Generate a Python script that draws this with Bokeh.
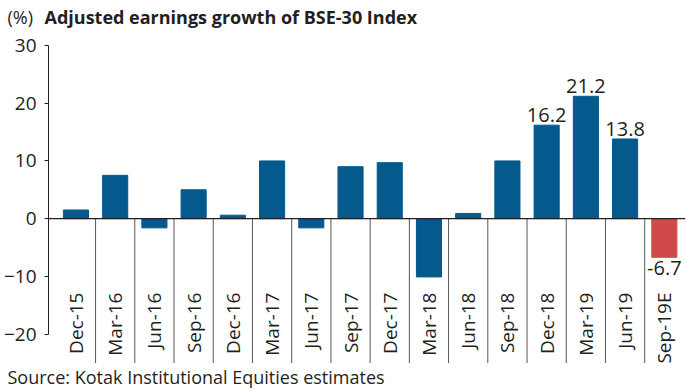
from bokeh.plotting import figure
from bokeh.layouts import column
from bokeh.models import ColumnDataSource, FixedTicker, Span
from bokeh.core.properties import value
from bokeh.embed import file_html
from bokeh.resources import INLINE

categories = ["Dec-15", "Mar-16", "Jun-16", "Sep-16", "Dec-16", "Mar-17", "Jun-17", "Sep-17",
              "Dec-17", "Mar-18", "Jun-18", "Sep-18", "Dec-18", "Mar-19", "Jun-19", "Sep-19E"]
growth = [1.5, 7.5, -1.6, 5.0, 0.6, 10.0, -1.6, 9.0, 9.7, -10.1, 0.9, 10.0, 16.2, 21.2, 13.8, -6.7]
labelled = ["Dec-18", "Mar-19", "Jun-19", "Sep-19E"]
y_ticks = [-20, -10, 0, 10, 20, 30]
title_unit = "(%)"
title_text = "Adjusted earnings growth of BSE-30 Index"
source_text = "Source: Kotak Institutional Equities estimates"

BLUE = "#045a8d"
RED = "#d04a4a"
FONT = "Open Sans"
TXT = "#231f20"
W = 691
TOP_H, MAIN_H, BOT_H = 30, 333, 26

Y_MIN, Y_MAX = -25.1, 30
xs = list(range(len(categories)))
colors = [RED if c.endswith("E") else BLUE for c in categories]


def no_align(f):
    try:
        f.frame_align = False
    except Exception:
        pass
    return f


def text_strip(h):
    f = figure(width=W, height=h, output_backend="svg", toolbar_location=None,
               x_range=(0, W), y_range=(0, h), x_axis_location=None, y_axis_location=None,
               min_border=0)
    f.outline_line_color = None
    f.grid.visible = False
    return no_align(f)


# title strip
top = text_strip(TOP_H)
top.text(x=[7], y=[TOP_H - 16], text=[title_unit], text_baseline="middle",
         text_font=value(FONT), text_font_size="18px", text_color=TXT)
top.text(x=[44], y=[TOP_H - 16], text=[title_text], text_baseline="middle",
         text_font=value(FONT), text_font_size="18px", text_font_style="bold", text_color=TXT)

# main chart
src = ColumnDataSource(dict(x=xs, top=growth, color=colors, cat=categories))
p = figure(width=W, height=MAIN_H, output_backend="svg", toolbar_location=None,
           x_range=(-0.7, 15.54), y_range=(Y_MIN, Y_MAX), x_axis_location=None,
           min_border_left=46, min_border_top=15, min_border_bottom=0, min_border_right=6)
no_align(p)
p.outline_line_color = None
p.grid.visible = False

p.vbar(x="x", top="top", bottom=0, width=0.64, color="color", source=src)

bx = [i + 0.5 for i in range(len(categories) - 1)]
p.segment(x0=bx, x1=bx, y0=[0] * len(bx), y1=[Y_MIN] * len(bx), line_color="#555555", line_width=1)

p.add_layout(Span(location=0, dimension="width", line_color=TXT, line_width=1.2))

p.text(x="x", y=-12.8, text="cat", source=src, angle=1.5708, text_align="right",
       text_baseline="middle", text_font=value(FONT), text_font_size="19px", text_color=TXT)

pos = [(i, v) for i, (c, v) in enumerate(zip(categories, growth)) if c in labelled and v >= 0]
neg = [(i, v) for i, (c, v) in enumerate(zip(categories, growth)) if c in labelled and v < 0]
p.text(x=[a for a, _ in pos], y=[b for _, b in pos], text=[f"{b:.1f}" for _, b in pos],
       text_align="center", text_baseline="bottom", y_offset=-3,
       text_font=value(FONT), text_font_size="20px", text_color=TXT)
p.text(x=[a for a, _ in neg], y=[b for _, b in neg], text=[f"{b:.1f}" for _, b in neg],
       text_align="center", text_baseline="top", y_offset=4,
       text_font=value(FONT), text_font_size="20px", text_color=TXT)

ya = p.yaxis[0]
ya.ticker = FixedTicker(ticks=y_ticks)
ya.bounds = (-20, 30)
ya.minor_tick_line_color = None
ya.major_tick_in = 0
ya.major_tick_out = 4
ya.axis_line_color = TXT
ya.major_tick_line_color = TXT
ya.major_label_text_font = FONT
ya.major_label_text_font_size = "19px"
ya.major_label_text_color = TXT
ya.major_label_standoff = 8

# source strip
bot = text_strip(BOT_H)
bot.text(x=[7], y=[BOT_H / 2], text=[source_text], text_baseline="middle",
         text_font=value(FONT), text_font_size="18px", text_color=TXT)

layout = column(top, p, bot, spacing=0)
open("out.html", "w").write(file_html(layout, INLINE))
